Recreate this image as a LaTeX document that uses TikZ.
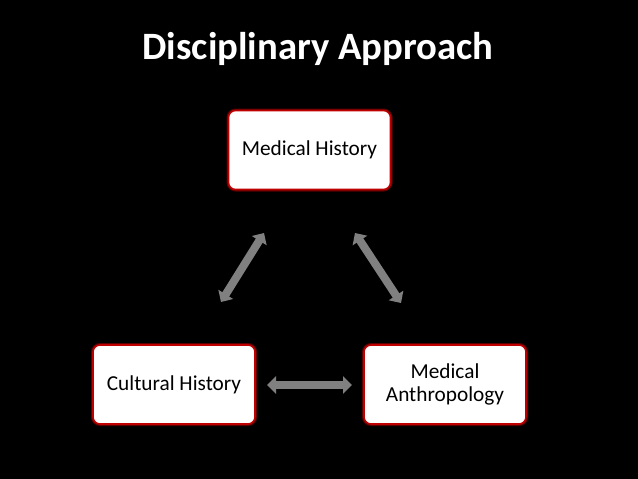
\documentclass[tikz,border=0pt]{standalone}
\usepackage{fontspec}
\setmainfont{Carlito}
\usetikzlibrary{arrows.meta}
\definecolor{boxred}{HTML}{C00000}
\definecolor{glowred}{HTML}{5A0000}
\definecolor{arrgray}{HTML}{808080}
\tikzset{
  topicbox/.style={draw=boxred, line width=1.6pt, fill=white, rounded corners=7pt,
    minimum width=162pt, minimum height=79pt, inner sep=2pt, align=center,
    font=\fontsize{21.3}{22.5}\selectfont, text=black,
    preaction={draw=glowred, line width=4pt, rounded corners=8pt}},
  linkarrow/.style={draw=arrgray, line width=8pt,
    {Triangle[length=9pt,width=17pt]}-{Triangle[length=9pt,width=17pt]}},
  titletext/.style={font=\fontsize{38.7}{42}\selectfont\bfseries, text=white, inner sep=0pt}
}
\begin{document}
\begin{tikzpicture}[x=1pt,y=-1pt]
\fill[black] (0,0) rectangle (638,479);
\useasboundingbox (0,0) rectangle (638,479);
\node[titletext, anchor=base] (title) at (318,59) {Disciplinary Approach};
\node[topicbox] (mh) at (309.5,150) {Medical History};
\node[topicbox] (ch) at (174,384.5) {Cultural History};
\node[topicbox] (ma) at (445,384.5) {Medical\\Anthropology};
\coordinate (l1) at (221,302);
\coordinate (l2) at (264,233);
\coordinate (r1) at (355,233);
\coordinate (r2) at (401,303);
\coordinate (h1) at (267,385);
\coordinate (h2) at (352,385);
\draw[linkarrow] (l1) -- (l2);
\draw[linkarrow] (r1) -- (r2);
\draw[linkarrow] (h1) -- (h2);
\end{tikzpicture}
\end{document}
